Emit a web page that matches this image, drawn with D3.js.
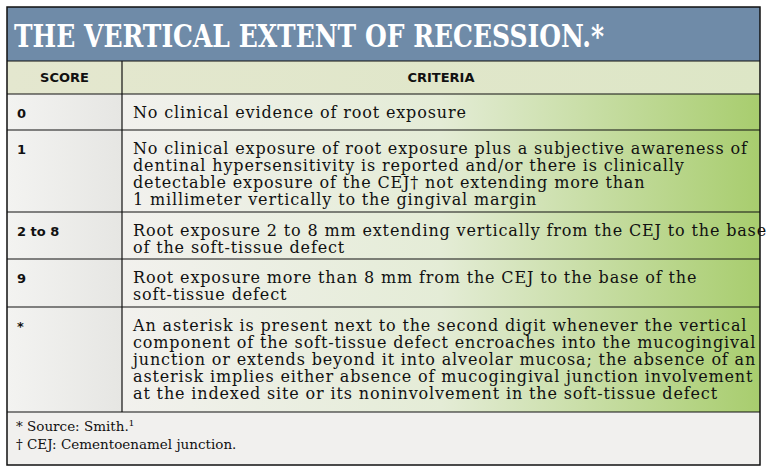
<!DOCTYPE html>
<html><head><meta charset="utf-8">
<script src="https://cdn.jsdelivr.net/npm/d3@7"></script>
<style>body{margin:0;background:#fff}</style>
</head><body><div id="chart"></div>
<script>
// data
const title = "THE VERTICAL EXTENT OF RECESSION.*";
const headers = ["SCORE", "CRITERIA"];
const scores = ["0", "1", "2 to 8", "9", "*"];
const criteria = [
  ["No clinical evidence of root exposure"],
  ["No clinical exposure of root exposure plus a subjective awareness of",
   "dentinal hypersensitivity is reported and/or there is clinically",
   "detectable exposure of the CEJ\u2020 not extending more than",
   "1 millimeter vertically to the gingival margin"],
  ["Root exposure 2 to 8 mm extending vertically from the CEJ to the base",
   "of the soft-tissue defect"],
  ["Root exposure more than 8 mm from the CEJ to the base of the",
   "soft-tissue defect"],
  ["An asterisk is present next to the second digit whenever the vertical",
   "component of the soft-tissue defect encroaches into the mucogingival",
   "junction or extends beyond it into alveolar mucosa; the absence of an",
   "asterisk implies either absence of mucogingival junction involvement",
   "at the indexed site or its noninvolvement in the soft-tissue defect"]
];
const rowBounds = [94, 130, 212, 259, 307, 412];
const footnotes = ["* Source: Smith.\u00b9", "\u2020 CEJ: Cementoenamel junction."];

const W = 766, H = 472, L = 7, R = 760, T = 7, B = 465, colX = 122;
const svg = d3.select("#chart").append("svg").attr("width", W).attr("height", H);
const defs = svg.append("defs");
const gr = defs.append("linearGradient").attr("id", "green");
gr.append("stop").attr("offset", "0%").attr("stop-color", "#f2f1ee");
gr.append("stop").attr("offset", "50%").attr("stop-color", "#e4ecd6");
gr.append("stop").attr("offset", "100%").attr("stop-color", "#a8cd6e");
const gg = defs.append("linearGradient").attr("id", "grey");
gg.append("stop").attr("offset", "0%").attr("stop-color", "#f3f3f1");
gg.append("stop").attr("offset", "100%").attr("stop-color", "#e6e6e3");
const gh = defs.append("linearGradient").attr("id", "head");
gh.append("stop").attr("offset", "0%").attr("stop-color", "#e4e7cf");
gh.append("stop").attr("offset", "100%").attr("stop-color", "#dde6c6");

// title band
svg.append("rect").attr("x", L).attr("y", T).attr("width", R - L).attr("height", 54).attr("fill", "#6f8ba8");
svg.append("text").attr("x", 14).attr("y", 47).attr("fill", "#fff")
  .attr("font-family", "DejaVu Serif").attr("font-weight", "bold").attr("font-size", 31)
  .attr("textLength", 590).attr("lengthAdjust", "spacingAndGlyphs").text(title);

// header row
svg.append("rect").attr("x", L).attr("y", 61).attr("width", R - L).attr("height", 33).attr("fill", "url(#head)");
svg.selectAll(".hd").data(headers).enter().append("text")
  .attr("x", (d, i) => i ? (colX + R) / 2 : (L + colX) / 2).attr("y", 82)
  .attr("text-anchor", "middle").attr("font-family", "DejaVu Sans").attr("font-weight", "bold")
  .attr("font-size", 13).attr("fill", "#111").text(d => d);

// body rows
const rows = svg.selectAll(".row").data(scores).enter().append("g");
rows.append("rect").attr("x", L).attr("y", (d, i) => rowBounds[i]).attr("width", colX - L)
  .attr("height", (d, i) => rowBounds[i + 1] - rowBounds[i]).attr("fill", "url(#grey)");
rows.append("rect").attr("x", colX).attr("y", (d, i) => rowBounds[i]).attr("width", R - colX)
  .attr("height", (d, i) => rowBounds[i + 1] - rowBounds[i]).attr("fill", "url(#green)");
rows.append("text").attr("x", 17).attr("y", (d, i) => rowBounds[i] + 24)
  .attr("font-family", "DejaVu Sans").attr("font-weight", "bold").attr("font-size", 13)
  .attr("fill", "#111").text(d => d);
rows.each(function (d, i) {
  d3.select(this).selectAll(".ln").data(criteria[i]).enter().append("text")
    .attr("x", 133).attr("y", (t, j) => rowBounds[i] + 24 + j * 17)
    .attr("font-family", "DejaVu Serif").attr("font-size", 16).attr("letter-spacing", 0.85)
    .attr("fill", "#111").text(t => t);
});

// footnote area
svg.append("rect").attr("x", L).attr("y", 412).attr("width", R - L).attr("height", B - 412).attr("fill", "#f1f0ee");
svg.selectAll(".fn").data(footnotes).enter().append("text")
  .attr("x", 16).attr("y", (d, i) => 431 + i * 18).attr("font-family", "DejaVu Serif")
  .attr("font-size", 13.5).attr("fill", "#111").text(d => d);

// grid lines
const hl = [61, 94].concat(rowBounds.slice(1));
svg.selectAll(".hl").data(hl).enter().append("line")
  .attr("x1", L).attr("x2", R).attr("y1", d => d).attr("y2", d => d)
  .attr("stroke", "#111").attr("stroke-width", 1.2);
svg.append("line").attr("x1", colX).attr("x2", colX).attr("y1", 61).attr("y2", 412)
  .attr("stroke", "#111").attr("stroke-width", 1.2);
svg.append("rect").attr("x", L).attr("y", T).attr("width", R - L).attr("height", B - T)
  .attr("fill", "none").attr("stroke", "#111").attr("stroke-width", 1.5);
</script></body></html>
